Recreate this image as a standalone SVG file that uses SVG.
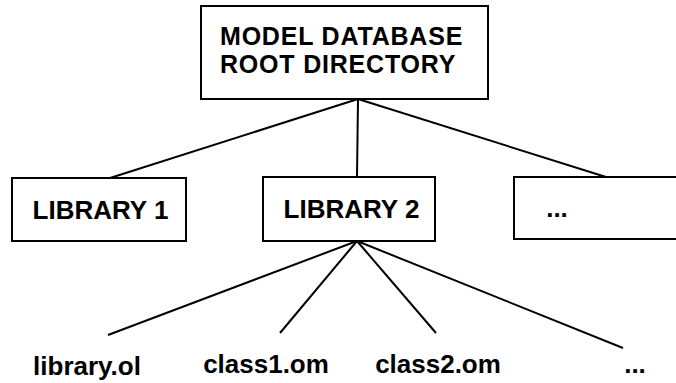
<svg xmlns="http://www.w3.org/2000/svg" width="676" height="383" viewBox="0 0 676 383">
<style>
.box{fill:#fff;stroke:#000;stroke-width:2}
.ln{stroke:#000;stroke-width:2;fill:none}
text{font-family:"Liberation Sans",Arial,sans-serif;font-weight:bold;font-size:26px;fill:#000}
.c{text-anchor:middle}
.r{font-size:25px;letter-spacing:0.8px}
</style>
<rect width="676" height="383" fill="#fff"/>
<g id="connectors">
<line class="ln" x1="358" y1="99" x2="357" y2="177"/>
<line class="ln" x1="358" y1="99" x2="110" y2="178"/>
<line class="ln" x1="358" y1="99" x2="606" y2="177"/>
<line class="ln" x1="357" y1="241" x2="108" y2="335"/>
<line class="ln" x1="357" y1="241" x2="280" y2="333"/>
<line class="ln" x1="357" y1="241" x2="436" y2="333"/>
<line class="ln" x1="357" y1="241" x2="623" y2="348"/>
</g>
<g id="root">
<rect class="box" x="201" y="6" width="287" height="93"/>
<text class="r" x="220" y="45">MODEL DATABASE</text>
<text class="r" x="220" y="73">ROOT DIRECTORY</text>
</g>
<g id="library1">
<rect class="box" x="12" y="178" width="174" height="63"/>
<text class="c" x="100.5" y="219">LIBRARY 1</text>
</g>
<g id="library2">
<rect class="box" x="263" y="177" width="172" height="64"/>
<text class="c" x="351.5" y="218">LIBRARY 2</text>
</g>
<g id="libraryN">
<rect class="box" x="514" y="177" width="180" height="62"/>
<text class="c" x="557" y="217">...</text>
</g>
<g id="libraryol"><text class="c" x="87" y="375">library.ol</text></g>
<g id="class1"><text class="c" x="266" y="373">class1.om</text></g>
<g id="class2"><text class="c" x="438" y="373">class2.om</text></g>
<g id="fileN"><text class="c" x="635" y="373">...</text></g>
</svg>
